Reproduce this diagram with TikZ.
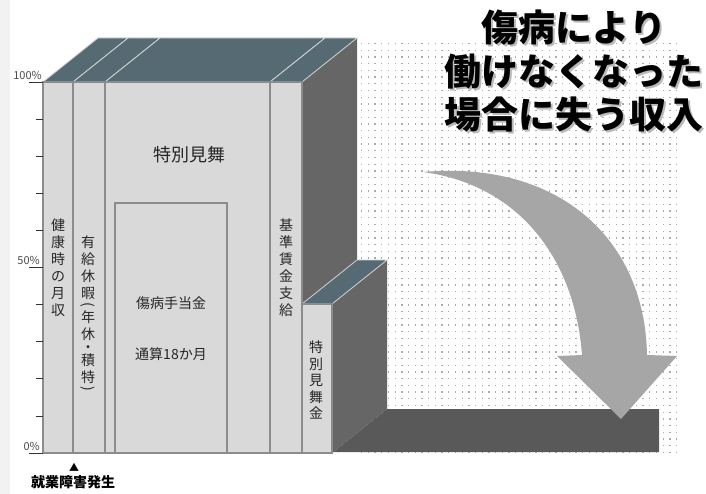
\documentclass[tikz,border=0pt]{standalone}
\usepackage{fontspec}
\setmainfont{Noto Sans CJK JP}
\definecolor{facec}{HTML}{D9D9D9}
\definecolor{edgec}{HTML}{8C8C8C}
\definecolor{topc}{HTML}{566A74}
\definecolor{sidec}{HTML}{666666}
\definecolor{floorc}{HTML}{595959}
\definecolor{arrowc}{HTML}{A6A6A6}
\definecolor{dotc}{HTML}{ABABAB}
\definecolor{stripc}{HTML}{F2F2F2}
\begin{document}
\begin{tikzpicture}[x=1pt, y=-1pt,
  face/.style={fill=facec, draw=edgec, line width=1.2pt},
  topface/.style={fill=topc, draw=gray!35, line width=.8pt},
  tate/.style={align=center, inner sep=0pt, text=black!85, font=\fontsize{14}{17}\selectfont},
  lbl/.style={inner sep=0pt, text=black!85, font=\fontsize{14}{16}\selectfont},
  pct/.style={anchor=south east, inner sep=1pt, text=black!70, font=\fontsize{11}{12}\selectfont},
  headline/.style={align=center, inner sep=0pt, font=\fontsize{37}{43.5}\selectfont\bfseries}]
\useasboundingbox (0,0) rectangle (706,494);
\fill[stripc] (0,0) rectangle (10,494); %left margin strip
\foreach \i in {0,...,47}
  \foreach \j in {0,...,61}
    \fill[dotc] ({361+6.7*\i},{43+6.7*\j}) rectangle +(1.3,1.3); %dotted backdrop
\fill[sidec] (302,82)--(357,38)--(357,409)--(302,453)--cycle; %side of full bars
\fill[floorc] (332,453)--(387,409)--(659,409)--(659,452)--(332,452)--cycle; %lost income floor
\fill[arrowc] (423,172) .. controls (560,160) and (645,240) .. (647,355) -- (677,356) -- (621,419)
  -- (557,356) -- (582,355) .. controls (575,260) and (520,185) .. (423,172) -- cycle; %drop arrow
\draw[topface] (43,82)--(98,38)--(128,38)--(73,82)--cycle;
\draw[topface] (73,82)--(128,38)--(160,38)--(105,82)--cycle;
\draw[topface] (105,82)--(160,38)--(325,38)--(270,82)--cycle;
\draw[topface] (270,82)--(325,38)--(357,38)--(302,82)--cycle;
\draw[face] (43,82) rectangle (73,453); %monthly pay
\draw[face] (73,82) rectangle (105,453); %paid leave
\draw[face] (105,82) rectangle (270,453); %special allowance
\draw[face] (115,203) rectangle (227,453); %sickness benefit
\draw[face] (270,82) rectangle (302,453); %base wage
\fill[sidec] (332,304)--(387,260)--(387,409)--(332,453)--cycle;
\draw[topface] (302,304)--(357,260)--(387,260)--(332,304)--cycle;
\draw[face] (302,304) rectangle (332,453); %special sympathy money
\foreach \t in {1,2,3,4,6,7,8,9}
  \draw[black!80, line width=.8pt] (36,{453-37.1*\t}) -- (43,{453-37.1*\t}); %minor ticks
\foreach \t in {0,5,10}
  \draw[black!80, line width=.8pt] (29,{453-37.1*\t}) -- (43,{453-37.1*\t}); %major ticks
\node[pct] (p100) at (43,81) {100\%};
\node[pct] (p50) at (41,266) {50\%};
\node[pct] (p0) at (41,452) {0\%};
\node[tate] (kenko) at (58,268) {健\\康\\時\\の\\月\\収};
\node[tate] (yukyu) at (88,268) {有\\給\\休\\暇};
\node[lbl, rotate=-90] (lparen) at (88,305) {(};
\node[tate] (nenkyu) at (88,347) {年\\休\\[-4pt]・\\[-4pt]積\\特};
\node[lbl, rotate=-90] (rparen) at (88,389) {)};
\node[lbl, font=\fontsize{18}{20}\selectfont] (tokubetsu) at (189,155) {特別見舞};
\node[lbl] (shobyo) at (171,303) {傷病手当金};
\node[lbl] (tsusan) at (171,354) {通算18か月};
\node[tate] (kijun) at (286,268) {基\\準\\賃\\金\\支\\給};
\node[tate, font=\fontsize{14}{16.5}\selectfont] (mimaikin) at (316,380) {特\\別\\見\\舞\\金};
\node[inner sep=0pt, font=\fontsize{10}{10}\selectfont] (mark) at (74,467) {▲};
\node[lbl, text=black, font=\fontsize{14}{16}\selectfont\bfseries] (onset) at (73,482) {就業障害発生};
\node[headline, text=gray!55] (headshadow) at (576,73) {傷病により\\働けなくなった\\場合に失う収入};
\node[headline] (head) at (574,71) {傷病により\\働けなくなった\\場合に失う収入};
\end{tikzpicture}
\end{document}
